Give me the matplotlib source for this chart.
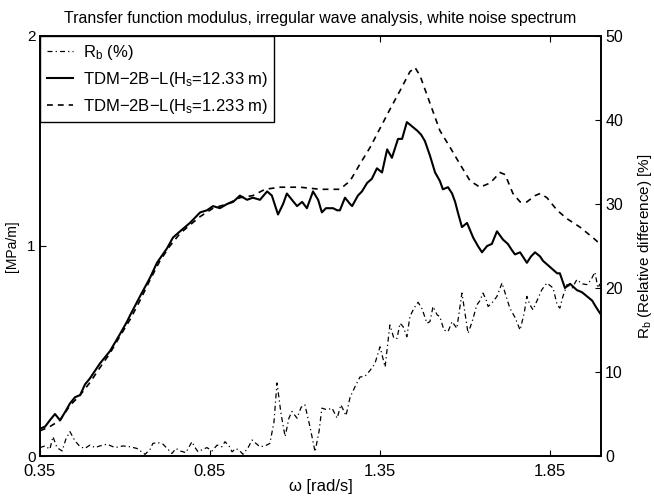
import matplotlib
matplotlib.use('Agg')
import matplotlib.pyplot as plt
import numpy as np

plt.rcParams['font.family'] = ['Liberation Sans', 'DejaVu Sans']
plt.rcParams['mathtext.fontset'] = 'custom'
plt.rcParams['mathtext.rm'] = 'Liberation Sans'
plt.rcParams['mathtext.it'] = 'Liberation Sans'

# TDM-2B-L, Hs = 12.33 m  (left axis, MPa/m)
omega_hs12 = [0.350, 0.365, 0.379, 0.394, 0.409, 0.424, 0.438, 0.453, 0.468, 0.482,
              0.497, 0.526, 0.556, 0.585, 0.606, 0.615, 0.644, 0.674, 0.694, 0.724,
              0.741, 0.762, 0.791, 0.821, 0.841, 0.859, 0.879, 0.900, 0.918, 0.938,
              0.959, 0.976, 0.997, 1.018, 1.032, 1.050, 1.065, 1.076, 1.091, 1.106,
              1.121, 1.135, 1.153, 1.168, 1.179, 1.191, 1.203, 1.212, 1.224, 1.232,
              1.247, 1.262, 1.268, 1.285, 1.297, 1.312, 1.326, 1.341, 1.356, 1.371,
              1.385, 1.403, 1.415, 1.429, 1.444, 1.459, 1.471, 1.482, 1.497, 1.512,
              1.526, 1.535, 1.550, 1.562, 1.571, 1.579, 1.591, 1.606, 1.624, 1.638,
              1.650, 1.665, 1.679, 1.694, 1.712, 1.726, 1.738, 1.747, 1.762, 1.774,
              1.782, 1.794, 1.806, 1.821, 1.829, 1.850, 1.871, 1.879, 1.894, 1.909,
              1.929, 1.944, 1.959, 1.974, 1.985, 1.997]
tf_hs12 = [0.13, 0.14, 0.17, 0.20, 0.17, 0.21, 0.25, 0.28, 0.29, 0.34,
           0.37, 0.44, 0.50, 0.58, 0.64, 0.67, 0.76, 0.85, 0.92, 0.99,
           1.04, 1.07, 1.11, 1.16, 1.17, 1.19, 1.18, 1.20, 1.21, 1.24,
           1.22, 1.23, 1.22, 1.26, 1.24, 1.15, 1.20, 1.25, 1.22, 1.19,
           1.21, 1.18, 1.26, 1.22, 1.16, 1.18, 1.18, 1.18, 1.17, 1.17,
           1.23, 1.20, 1.19, 1.24, 1.26, 1.30, 1.32, 1.37, 1.35, 1.46,
           1.42, 1.51, 1.51, 1.59, 1.57, 1.55, 1.53, 1.50, 1.43, 1.35,
           1.31, 1.27, 1.28, 1.25, 1.21, 1.16, 1.09, 1.11, 1.04, 1.00,
           0.97, 1.00, 1.01, 1.07, 1.03, 1.01, 0.98, 0.96, 0.97, 0.94,
           0.92, 0.95, 0.97, 0.95, 0.93, 0.90, 0.87, 0.87, 0.80, 0.82,
           0.79, 0.78, 0.76, 0.74, 0.71, 0.68]

# TDM-2B-L, Hs = 1.233 m  (left axis, MPa/m)
omega_hs1 = [0.350, 0.379, 0.409, 0.438, 0.468, 0.497, 0.526, 0.556, 0.585, 0.615,
             0.644, 0.674, 0.703, 0.732, 0.762, 0.791, 0.821, 0.859, 0.900, 0.938,
             0.976, 1.012, 1.056, 1.115, 1.174, 1.232, 1.262, 1.291, 1.321, 1.350,
             1.379, 1.409, 1.438, 1.453, 1.468, 1.497, 1.526, 1.556, 1.585, 1.615,
             1.644, 1.674, 1.703, 1.718, 1.741, 1.762, 1.782, 1.806, 1.821, 1.841,
             1.871, 1.900, 1.938, 1.976, 1.997]
tf_hs1 = [0.12, 0.14, 0.17, 0.24, 0.29, 0.35, 0.42, 0.49, 0.57, 0.65,
          0.74, 0.84, 0.93, 1.00, 1.06, 1.10, 1.14, 1.18, 1.20, 1.23,
          1.24, 1.27, 1.28, 1.28, 1.27, 1.27, 1.31, 1.39, 1.47, 1.56,
          1.65, 1.74, 1.83, 1.85, 1.81, 1.68, 1.55, 1.47, 1.39, 1.31,
          1.28, 1.30, 1.35, 1.34, 1.25, 1.21, 1.21, 1.24, 1.25, 1.23,
          1.17, 1.13, 1.09, 1.04, 1.01]

# Rb, relative difference (right axis, %)
omega_rb = [0.350, 0.365, 0.379, 0.388, 0.400, 0.415, 0.426, 0.438, 0.453, 0.468,
            0.482, 0.497, 0.512, 0.526, 0.547, 0.571, 0.594, 0.615, 0.635, 0.659,
            0.674, 0.682, 0.697, 0.712, 0.726, 0.738, 0.750, 0.762, 0.779, 0.797,
            0.806, 0.815, 0.829, 0.841, 0.856, 0.871, 0.885, 0.894, 0.906, 0.915,
            0.926, 0.938, 0.947, 0.962, 0.974, 0.985, 0.997, 1.012, 1.026, 1.038,
            1.047, 1.059, 1.071, 1.082, 1.091, 1.106, 1.118, 1.129, 1.144, 1.159,
            1.171, 1.179, 1.194, 1.209, 1.224, 1.235, 1.250, 1.262, 1.276, 1.291,
            1.306, 1.321, 1.335, 1.350, 1.365, 1.379, 1.391, 1.400, 1.409, 1.418,
            1.429, 1.438, 1.450, 1.462, 1.474, 1.488, 1.497, 1.506, 1.518, 1.526,
            1.538, 1.550, 1.562, 1.576, 1.591, 1.600, 1.609, 1.621, 1.635, 1.644,
            1.653, 1.662, 1.668, 1.679, 1.694, 1.709, 1.721, 1.732, 1.747, 1.762,
            1.774, 1.782, 1.791, 1.800, 1.812, 1.826, 1.841, 1.850, 1.859, 1.871,
            1.879, 1.888, 1.900, 1.915, 1.929, 1.944, 1.959, 1.971, 1.982, 1.991,
            1.997]
rb = [1.0, 1.2, 0.8, 2.3, 1.0, 0.6, 2.0, 2.9, 1.8, 1.1,
      0.9, 1.3, 1.0, 1.2, 1.4, 1.0, 1.2, 1.1, 0.9, 0.2,
      0.8, 1.5, 1.6, 1.4, 0.8, 0.3, 0.9, 0.6, 0.4, 1.7,
      1.0, 0.5, 0.8, 1.0, 0.6, 1.3, 1.1, 1.7, 1.2, 0.5,
      0.9, 0.6, 0.2, 1.0, 1.9, 1.5, 1.1, 1.2, 1.5, 4.0,
      8.7, 5.0, 2.3, 4.5, 5.3, 4.5, 5.8, 6.1, 3.5, 0.5,
      3.0, 5.7, 5.5, 5.7, 4.5, 6.1, 4.8, 7.0, 8.2, 9.4,
      9.5, 10.2, 11.0, 13.0, 10.6, 15.6, 14.0, 14.0, 15.8, 15.4,
      14.2, 16.6, 17.6, 18.3, 17.5, 15.8, 16.0, 17.8, 16.8, 16.6,
      15.0, 14.8, 16.0, 15.2, 19.4, 17.0, 14.6, 16.0, 18.0, 18.5,
      19.4, 18.6, 17.8, 18.2, 19.0, 20.6, 19.0, 17.6, 16.5, 15.0,
      17.0, 19.0, 18.0, 17.4, 18.5, 19.8, 20.6, 20.3, 20.0, 18.0,
      17.6, 19.0, 20.4, 20.0, 21.0, 20.5, 20.4, 21.0, 21.9, 20.0,
      20.5]

fig = plt.figure(figsize=(6.54, 4.96), dpi=100)
ax = fig.add_axes([40 / 654, 40 / 496, 561 / 654, 420 / 496])
ax2 = ax.twinx()

l1, = ax.plot(omega_hs12, tf_hs12, color='black', lw=1.5, ls='-',
              label='TDM\u22122B\u2212L(H$_s$=12.33 m)')
l2, = ax.plot(omega_hs1, tf_hs1, color='black', lw=1.2, ls=(0, (3.5, 3)),
              label='TDM\u22122B\u2212L(H$_s$=1.233 m)')
l0, = ax2.plot(omega_rb, rb, color='black', lw=0.9, ls=(0, (4, 2.5, 1, 2.5)),
               label='R$_b$ (%)')

ax.set_xlim(0.35, 2.0)
ax.set_ylim(0, 2)
ax2.set_ylim(0, 50)
ax.set_xticks([0.35, 0.85, 1.35, 1.85])
ax.set_xticklabels(['0.35', '0.85', '1.35', '1.85'])
ax.set_yticks([0, 1, 2])
ax2.set_yticks([0, 10, 20, 30, 40, 50])

ax.tick_params(axis='x', direction='in', top=True, length=4, labelsize=12, pad=6)
ax.tick_params(axis='y', direction='in', length=4, labelsize=11, pad=3)
ax2.tick_params(axis='y', direction='in', length=4, labelsize=11.5, pad=3)
for a in (ax, ax2):
    for s in a.spines.values():
        s.set_linewidth(1.2)

ax.set_xlabel('\u03c9 [rad/s]', fontsize=12, labelpad=0)
ax.set_ylabel('[MPa/m]', fontsize=10, labelpad=6)
ax2.set_ylabel('R$_b$ (Relative difference) [%]', fontsize=11, labelpad=9)
ax.set_title('Transfer function modulus, irregular wave analysis, white noise spectrum',
             fontsize=11.4, pad=9)

leg = ax2.legend(handles=[l0, l1, l2], loc='upper left', fontsize=12,
                 borderaxespad=0, fancybox=False, edgecolor='black', framealpha=1,
                 handlelength=1.6, handletextpad=0.55, labelspacing=0.48, borderpad=0.4)
leg.get_frame().set_linewidth(1.0)

fig.savefig('out.png', dpi=100)
